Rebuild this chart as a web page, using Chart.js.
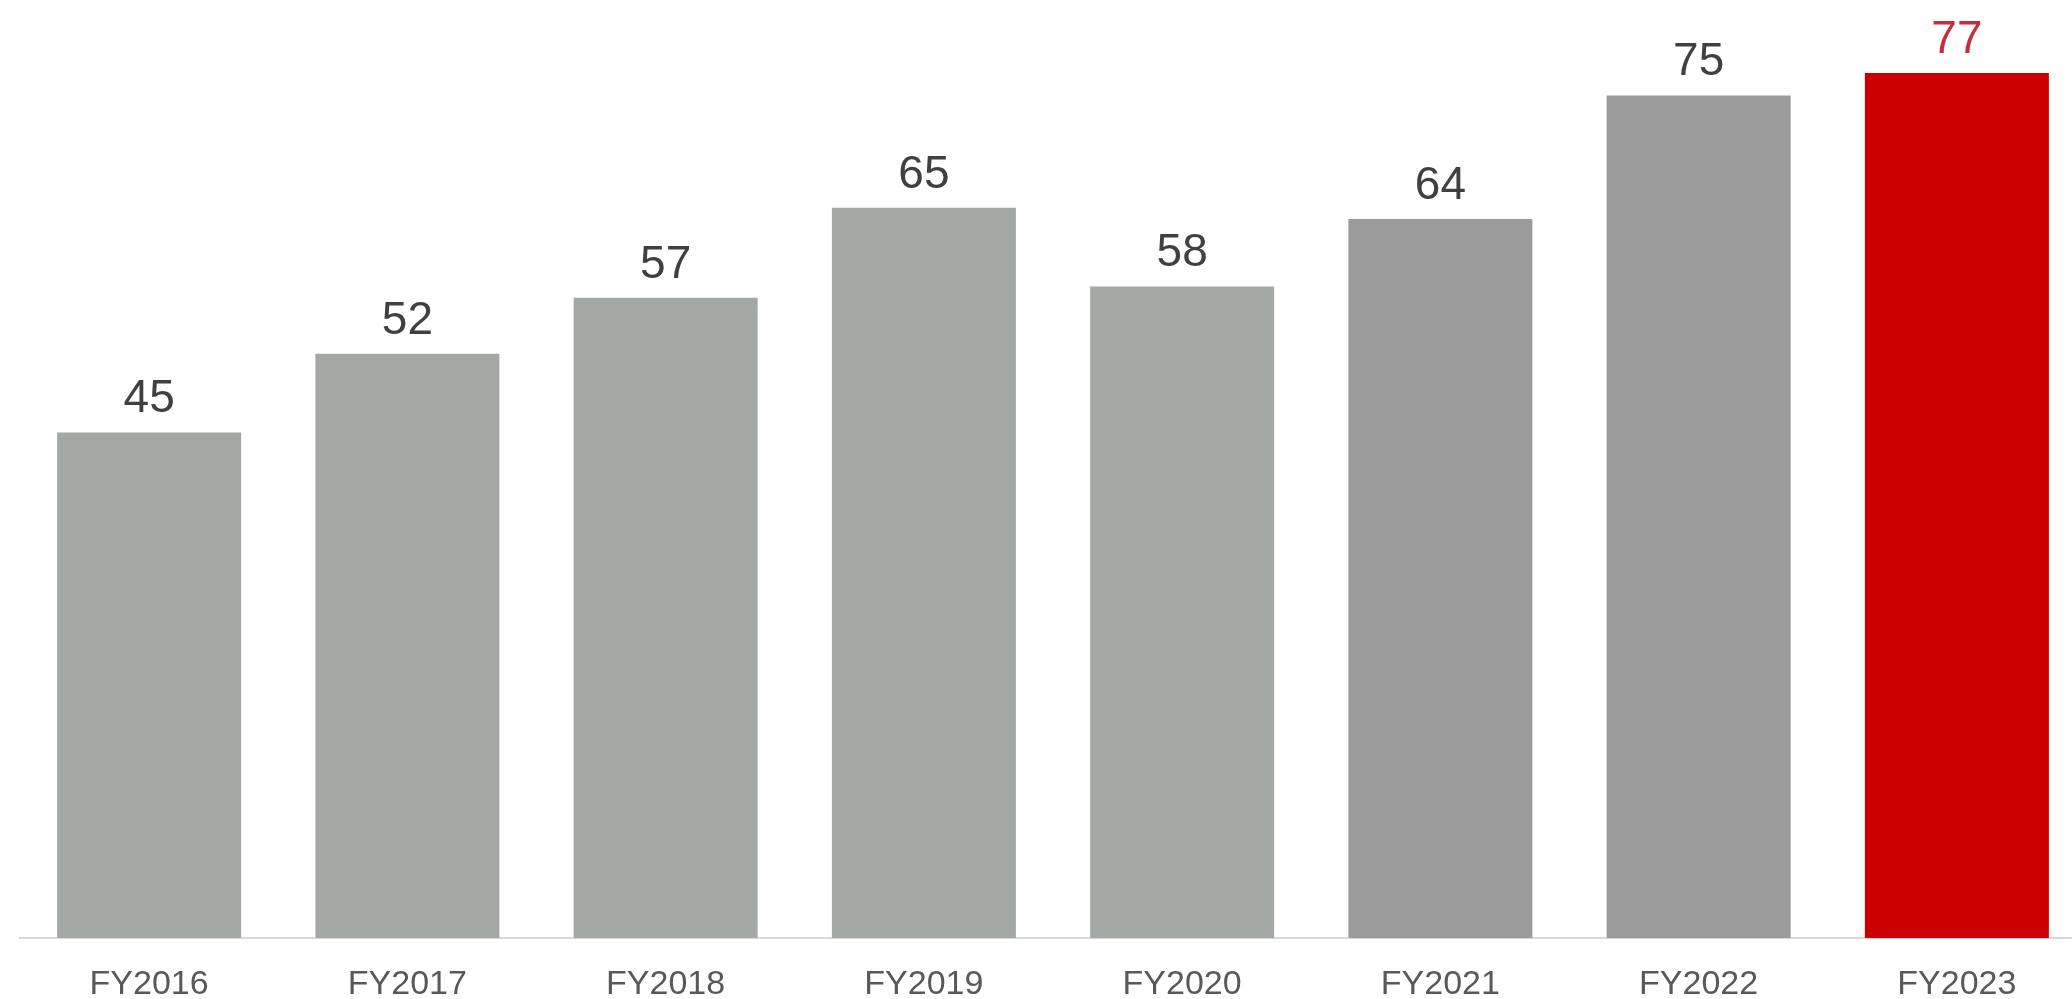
<!DOCTYPE html>
<html>
<head>
<meta charset="utf-8">
<script src="https://cdn.jsdelivr.net/npm/chart.js@4/dist/chart.umd.min.js"></script>
<style>
  html, body { margin: 0; padding: 0; background: #ffffff; overflow: hidden; }
  #wrap { width: 2086px; height: 999px; position: relative; }
</style>
</head>
<body>
<div id="wrap"><canvas id="chart"></canvas></div>
<script>
// Fiscal years and their values
const categories = ['FY2016', 'FY2017', 'FY2018', 'FY2019', 'FY2020', 'FY2021', 'FY2022', 'FY2023'];
const values = [45, 52, 57, 65, 58, 64, 75, 77];
const barColors = ['#a3a8a5', '#a3a8a5', '#a3a8a5', '#a3a8a5', '#a3a8a5', '#9b9b9b', '#9b9b9b', '#cc0000'];
const valueLabelColors = ['#404040', '#404040', '#404040', '#404040', '#404040', '#404040', '#404040', '#c0303a'];

const FONT = '"Liberation Sans", Arial, sans-serif';

// Draws each bar's value centred above it
const valueLabels = {
  id: 'valueLabels',
  afterDatasetsDraw(chart) {
    const ctx = chart.ctx;
    const meta = chart.getDatasetMeta(0);
    const data = chart.data.datasets[0].data;
    ctx.save();
    ctx.font = '46px ' + FONT;
    ctx.textAlign = 'center';
    ctx.textBaseline = 'alphabetic';
    meta.data.forEach((bar, i) => {
      ctx.fillStyle = valueLabelColors[i];
      ctx.fillText(String(data[i]), bar.x, bar.y - 20);
    });
    ctx.restore();
  }
};

new Chart(document.getElementById('chart'), {
  type: 'bar',
  data: {
    labels: categories,
    datasets: [{
      data: values,
      backgroundColor: barColors,
      borderWidth: 0,
      categoryPercentage: 1.0,
      barPercentage: 0.7125
    }]
  },
  options: {
    responsive: true,
    maintainAspectRatio: false,
    animation: false,
    layout: { padding: { left: 20, right: 0, top: 0, bottom: 0 } },
    plugins: {
      legend: { display: false },
      tooltip: { enabled: false }
    },
    scales: {
      x: {
        grid: { display: false, drawTicks: false },
        border: { display: true, color: '#d9d9d9', width: 2 },
        ticks: {
          color: '#595959',
          font: { family: FONT, size: 34 },
          padding: 26
        },
        afterFit(scale) { scale.height = 61; }
      },
      y: {
        display: false,
        min: 0,
        max: 83.5
      }
    }
  },
  plugins: [valueLabels]
});
</script>
</body>
</html>
